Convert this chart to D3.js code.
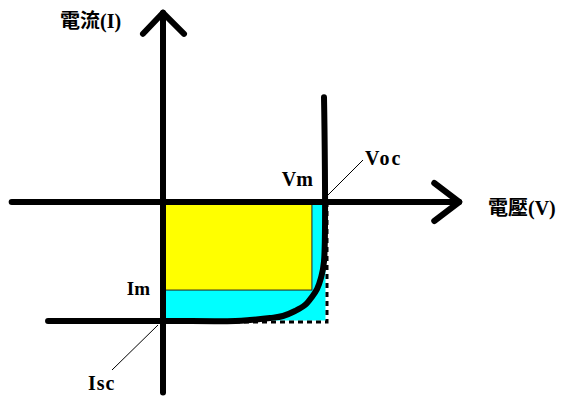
<!DOCTYPE html>
<html>
<head>
<meta charset="utf-8">
<script src="https://cdn.jsdelivr.net/npm/d3@7"></script>
<style>
  body { margin: 0; background: #fff; }
  text { font-family: "Liberation Serif", "Noto Sans CJK TC", serif; font-weight: bold; fill: #000; }
</style>
</head>
<body>
<div id="chart-area"></div>
<script>
// axis names and point labels
var axisNames = ["電壓(V)", "電流(I)"];
var pointNames = ["Vm", "Voc", "Im", "Isc"];

// key points (normalised: Voc = 1, Isc = -1)
var voc = 1.0, isc = -1.0;
var vm = 0.925, im = -0.74;

// axis extents
var vExtent = [-0.94, 1.84];
var iExtent = [-1.6, 1.59];

// I-V curve
var curveV = [-0.714, 0, 0.45, 0.54, 0.665, 0.745, 0.82, 0.882, 0.925, 0.957, 0.981, 1.0, 1.0];
var curveI = [-1, -1, -1, -0.992, -0.975, -0.958, -0.916, -0.866, -0.798, -0.731, -0.639, -0.5, 0.88];

var width = 566, height = 396;

var svg = d3.select("#chart-area")
    .append("svg")
        .attr("width", width)
        .attr("height", height);

var x = d3.scaleLinear().domain([0, 1]).range([163, 324]);
var y = d3.scaleLinear().domain([0, -1]).range([202, 321]);

// cyan: Voc x Isc box
svg.append("rect")
    .attr("x", x(0))
    .attr("y", y(0))
    .attr("width", x(voc) + 3 - x(0))
    .attr("height", y(isc) + 1 - y(0))
    .attr("fill", "#00ffff");

// dashed corner of the box
var corner = [[x(voc) + 3, y(0)], [x(voc) + 3, y(isc) + 1], [x(0), y(isc) + 1]];
svg.append("path")
    .attr("d", d3.line()(corner))
    .attr("fill", "none")
    .attr("stroke", "#fff")
    .attr("stroke-width", 3);
svg.append("path")
    .attr("d", d3.line()(corner))
    .attr("fill", "none")
    .attr("stroke", "#000")
    .attr("stroke-width", 3)
    .attr("stroke-dasharray", "5,4");

// yellow: Vm x Im box
svg.append("rect")
    .attr("x", x(0))
    .attr("y", y(0))
    .attr("width", x(vm) - x(0))
    .attr("height", y(im) - y(0))
    .attr("fill", "#ffff00")
    .attr("stroke", "#222")
    .attr("stroke-width", 1);

// axes with arrow heads
var axisStyle = function(sel) {
    sel.attr("fill", "none")
        .attr("stroke", "#000")
        .attr("stroke-width", 6)
        .attr("stroke-linecap", "round")
        .attr("stroke-linejoin", "round");
};

svg.append("line")
    .attr("x1", x(vExtent[0])).attr("y1", y(0))
    .attr("x2", x(vExtent[1])).attr("y2", y(0))
    .call(axisStyle);
svg.append("path")
    .attr("d", d3.line()([[x(vExtent[1]) - 25, y(0) - 19], [x(vExtent[1]), y(0)], [x(vExtent[1]) - 25, y(0) + 19]]))
    .call(axisStyle);

svg.append("line")
    .attr("x1", x(0)).attr("y1", y(iExtent[0]))
    .attr("x2", x(0)).attr("y2", y(iExtent[1]))
    .call(axisStyle);
svg.append("path")
    .attr("d", d3.line()([[x(0) - 20, y(iExtent[1]) + 21], [x(0), y(iExtent[1])], [x(0) + 21, y(iExtent[1]) + 21]]))
    .call(axisStyle);

// I-V curve
var pts = curveV.map(function(v, i) { return [v, curveI[i]]; });
var line = d3.line()
    .x(function(d) { return x(d[0]); })
    .y(function(d) { return y(d[1]); })
    .curve(d3.curveCatmullRom.alpha(0.5));

svg.append("path")
    .attr("d", line(pts))
    .call(axisStyle);

// leader lines
svg.append("line")
    .attr("x1", x(voc) + 4).attr("y1", y(0) - 7)
    .attr("x2", x(voc) + 39).attr("y2", y(0) - 42)
    .attr("stroke", "#000").attr("stroke-width", 1);
svg.append("line")
    .attr("x1", x(0) - 5).attr("y1", y(isc) + 4)
    .attr("x2", x(0) - 51).attr("y2", y(isc) + 49)
    .attr("stroke", "#000").attr("stroke-width", 1);

// labels
svg.append("text")
    .attr("x", 488).attr("y", 215)
    .attr("font-size", "20px")
    .text(axisNames[0]);
svg.append("text")
    .attr("x", 60).attr("y", 28)
    .attr("font-size", "20px")
    .text(axisNames[1]);

svg.append("text")
    .attr("x", x(vm) + 1).attr("y", y(0) - 16)
    .attr("text-anchor", "end")
    .attr("font-size", "20px")
    .text(pointNames[0]);
svg.append("text")
    .attr("x", x(voc) + 41).attr("y", y(0) - 37)
    .attr("font-size", "20px")
    .attr("letter-spacing", "2px")
    .text(pointNames[1]);
svg.append("text")
    .attr("x", x(0) - 13).attr("y", y(im) + 5)
    .attr("text-anchor", "end")
    .attr("font-size", "19px")
    .text(pointNames[2]);
svg.append("text")
    .attr("x", x(0) - 75).attr("y", y(isc) + 69)
    .attr("font-size", "20px")
    .attr("letter-spacing", "1px")
    .text(pointNames[3]);
</script>
</body>
</html>
